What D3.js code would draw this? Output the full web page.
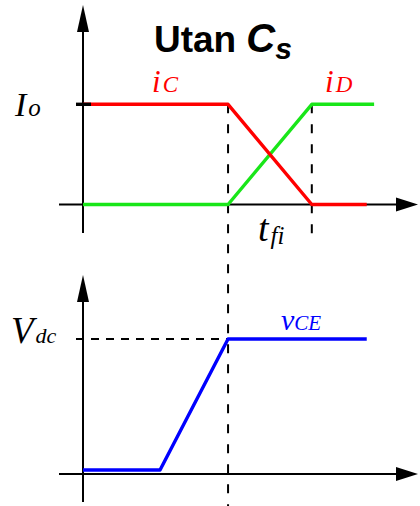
<!DOCTYPE html>
<html>
<head>
<meta charset="utf-8">
<script src="https://cdn.jsdelivr.net/npm/d3@7"></script>
<style>
  html, body { margin: 0; padding: 0; background: #ffffff; }
  svg { display: block; }
</style>
</head>
<body>
<svg id="chart" width="420" height="506"></svg>
<script>
// Switching instants (normalised time units)
const tVceStart = 2.3;    // collector-emitter voltage starts rising
const tVceEnd   = 4.33;   // voltage reaches Vdc, current fall begins
const tFiEnd    = 6.83;   // end of the current fall time t_fi
const tEndIC    = 8.47;
const tEndID    = 8.69;
const tEndVCE   = 8.47;

// Waveforms, normalised to Io and Vdc
const iCTimes  = [0, tVceEnd, tFiEnd, tEndIC];
const iCValues = [1, 1, 0, 0];
const iDTimes  = [0, tVceEnd, tFiEnd, tEndID];
const iDValues = [0, 0, 1, 1];
const vceTimes  = [0, tVceStart, tVceEnd, tEndVCE];
const vceValues = [0.03, 0.03, 1, 1];

const COLORS = { iC: "#ff0000", iD: "#19e619", vce: "#0000ff", axis: "#000000" };

const svg = d3.select("#chart");

// Shared time axis, separate amplitude axes for both panels
const x = d3.scaleLinear().domain([0, 10]).range([83, 418]);
const yI = d3.scaleLinear().domain([0, 1]).range([204.5, 104.3]);
const yV = d3.scaleLinear().domain([0, 1]).range([474, 339]);

const zip = (ts, vs) => ts.map((t, i) => [t, vs[i]]);

// Arrow-tipped axes
function drawAxes(y, yTopTip, yBottom, xLeft) {
  const x0 = x(0), y0 = y(0), xTip = x(10);
  const g = svg.append("g").attr("stroke", COLORS.axis).attr("fill", COLORS.axis);
  g.append("line").attr("x1", x0).attr("x2", x0)
    .attr("y1", yBottom).attr("y2", yTopTip + 20).attr("stroke-width", 2);
  g.append("path").attr("stroke", "none")
    .attr("d", `M${x0},${yTopTip} L${x0 - 6},${yTopTip + 27} L${x0 + 6},${yTopTip + 27} Z`);
  g.append("line").attr("x1", xLeft).attr("x2", xTip - 16)
    .attr("y1", y0).attr("y2", y0).attr("stroke-width", 2);
  g.append("path").attr("stroke", "none")
    .attr("d", `M${xTip},${y0} L${xTip - 22},${y0 - 7} L${xTip - 22},${y0 + 7} Z`);
}

drawAxes(yI, 5, 233, 59);
drawAxes(yV, 275, 502, 59);

// Dashed guide lines
const guides = svg.append("g").attr("stroke", COLORS.axis).attr("fill", "none");
guides.append("line")
  .attr("x1", x(tVceEnd)).attr("x2", x(tVceEnd))
  .attr("y1", yI(1)).attr("y2", 506)
  .attr("stroke-width", 2).attr("stroke-dasharray", "9 11");
guides.append("line")
  .attr("x1", x(tFiEnd)).attr("x2", x(tFiEnd))
  .attr("y1", yI(1)).attr("y2", 236)
  .attr("stroke-width", 2).attr("stroke-dasharray", "9 11");
guides.append("line")
  .attr("x1", 76).attr("x2", x(tVceEnd))
  .attr("y1", yV(1)).attr("y2", yV(1))
  .attr("stroke-width", 2).attr("stroke-dasharray", "8 7");

// Waveforms
const lineI = d3.line().x(d => x(d[0])).y(d => yI(d[1]));
const lineV = d3.line().x(d => x(d[0])).y(d => yV(d[1]));

svg.append("path").datum(zip(iDTimes, iDValues))
  .attr("d", lineI).attr("fill", "none")
  .attr("stroke", COLORS.iD).attr("stroke-width", 3.4).attr("stroke-linejoin", "round");
svg.append("path").datum(zip(iCTimes, iCValues))
  .attr("d", lineI).attr("fill", "none")
  .attr("stroke", COLORS.iC).attr("stroke-width", 3.4).attr("stroke-linejoin", "round");
svg.append("path").datum(zip(vceTimes, vceValues))
  .attr("d", lineV).attr("fill", "none")
  .attr("stroke", COLORS.vce).attr("stroke-width", 3.4).attr("stroke-linejoin", "round");

// Io tick mark on the current axis
svg.append("line")
  .attr("x1", 76).attr("x2", 91)
  .attr("y1", yI(1)).attr("y2", yI(1))
  .attr("stroke", COLORS.axis).attr("stroke-width", 3.4);

// Labels: main symbol plus smaller subscript part
const SERIF = "'Liberation Serif', 'Times New Roman', serif";
function label(xPos, yPos, main, sub, color, mainSize, subSize, subDy, subDx) {
  const t = svg.append("text")
    .attr("x", xPos).attr("y", yPos)
    .attr("fill", color)
    .attr("font-family", SERIF)
    .attr("font-style", "italic");
  t.append("tspan").attr("font-size", mainSize).text(main);
  t.append("tspan").attr("font-size", subSize).attr("dy", subDy).attr("dx", subDx || 0).text(sub);
}

label(15, 116, "I", "o", "#000", 34, 25, 0, 2);
label(152, 92, "i", "C", COLORS.iC, 31, 23, 0, 2);
label(325, 92, "i", "D", COLORS.iC, 31, 23, 0, 2);
label(258, 241, "t", "fi", "#000", 38, 25, 3, 2);
label(11, 343, "V", "dc", "#000", 37, 22, 0, 2);
label(281, 330, "v", "CE", COLORS.vce, 30, 21, 0, 0);

// Title
const title = svg.append("text")
  .attr("x", 154).attr("y", 52)
  .attr("fill", "#000")
  .attr("font-family", "'Liberation Sans', Arial, sans-serif")
  .attr("font-weight", "bold");
title.append("tspan").attr("font-size", 37).text("Utan");
title.append("tspan").attr("font-size", 40).attr("font-style", "italic").attr("dx", 10).text("C");
title.append("tspan").attr("font-size", 30).attr("font-style", "italic").attr("dy", 7).text("s");
</script>
</body>
</html>
